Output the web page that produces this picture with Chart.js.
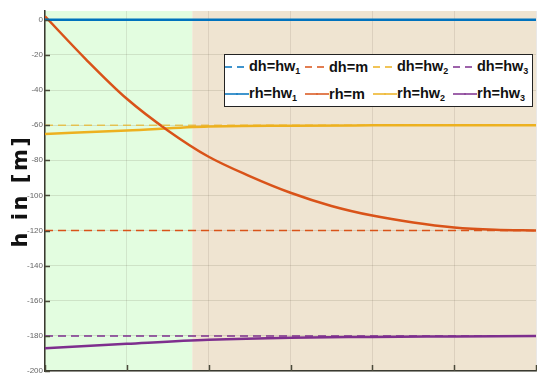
<!DOCTYPE html>
<html>
<head>
<meta charset="utf-8">
<script src="https://cdn.jsdelivr.net/npm/chart.js@4/dist/chart.umd.min.js"></script>
<style>
  html, body { margin: 0; padding: 0; background: #fff; }
  #wrap { position: relative; width: 537px; height: 374px; }
  #legend {
    position: absolute; left: 224px; top: 54px; width: 307px; height: 51px;
    background: #fff; border: 1px solid #222;
    font-family: "Liberation Sans", Arial, sans-serif; font-weight: bold; font-size: 14.5px; color: #111;
  }
  .row { position: absolute; left: 0; height: 20px; display: flex; align-items: center; }
  .item { display: flex; align-items: center; }
  .item svg { display: block; }
  sub { font-size: 9px; vertical-align: -3px; }
</style>
</head>
<body>
<div id="wrap">
  <canvas id="chart" width="537" height="374"></canvas>
  <div id="legend"></div>
</div>
<script>
// eje x (sin etiquetas)
const xFine = [0, 0.5, 1, 1.5, 2, 2.5, 3, 3.5, 4, 4.5, 5, 5.5, 6];
const xCoarse = [0, 1, 2, 3, 4, 5, 6];

// niveles de referencia (discontinuas)
const dhHw1 = [0, 0, 0, 0, 0, 0, 0];
const dhM = [-120, -120, -120, -120, -120, -120, -120];
const dhHw2 = [-60, -60, -60, -60, -60, -60, -60];
const dhHw3 = [-180, -180, -180, -180, -180, -180, -180];

// respuestas (continuas)
const rhHw1 = [0, 0, 0, 0, 0, 0, 0];
const rhM = [2, -22.5, -45, -63, -78, -89, -98.5, -106, -111.5, -115.5, -118.3, -119.6, -120];
const rhHw2 = [-65, -63, -60.8, -60.3, -60.1, -60, -60];
const rhHw3 = [-187, -184.5, -182.2, -181, -180.6, -180.3, -180];

const yTicks = [0, -20, -40, -60, -80, -100, -120, -140, -160, -180, -200];
const greenLimit = 1.8;

const cBlue = '#0072BD', cOrange = '#D95319', cYellow = '#EDB120', cPurple = '#7E2F8E';

const toPts = (xs, ys) => xs.map((x, i) => ({ x: x, y: ys[i] }));

// fondo verde / beige del área de trazado
const bgPlugin = {
  id: 'bg',
  beforeDraw(chart) {
    const { ctx, chartArea: a, scales: { x } } = chart;
    const xm = x.getPixelForValue(greenLimit);
    ctx.save();
    ctx.fillStyle = '#e3fde0';
    ctx.fillRect(a.left, a.top, xm - a.left, a.bottom - a.top);
    ctx.fillStyle = '#efe4d1';
    ctx.fillRect(xm, a.top, a.right - xm, a.bottom - a.top);
    ctx.restore();
  }
};

// título del eje y con letras más separadas
const spacingPlugin = {
  id: 'titleSpacing',
  afterLayout(chart) {
    const y = chart.scales.y;
    if (y._spaced) return;
    const orig = y.drawTitle;
    y.drawTitle = function () {
      const c = this.ctx;
      c.save();
      c.letterSpacing = '2.5px';
      orig.apply(this, arguments);
      c.restore();
    };
    y._spaced = true;
  }
};

// marcas de los ejes hacia dentro
const tickPlugin = {
  id: 'innerTicks',
  afterDraw(chart) {
    const { ctx, chartArea: a, scales: { x, y } } = chart;
    ctx.save();
    ctx.strokeStyle = '#4a4a3a';
    ctx.lineWidth = 1.5;
    yTicks.forEach(v => {
      const py = Math.round(y.getPixelForValue(v)) + 0.5;
      ctx.beginPath(); ctx.moveTo(a.left, py); ctx.lineTo(a.left + 5, py); ctx.stroke();
    });
    xCoarse.forEach(v => {
      const px = Math.round(x.getPixelForValue(v)) + 0.5;
      ctx.beginPath(); ctx.moveTo(px, a.bottom); ctx.lineTo(px, a.bottom - 6); ctx.stroke();
    });
    ctx.restore();
  }
};

const dashed = (label, data, color) => ({
  label, data: toPts(xCoarse, data), borderColor: color, borderWidth: 1.5,
  borderDash: [8, 5], pointRadius: 0, fill: false, tension: 0
});
const solid = (label, xs, data, color, w) => ({
  label, data: toPts(xs, data), borderColor: color, borderWidth: w,
  pointRadius: 0, fill: false, tension: 0.4, cubicInterpolationMode: 'monotone'
});

const ctx = document.getElementById('chart').getContext('2d');
const chart = new Chart(ctx, {
  type: 'line',
  data: {
    datasets: [
      dashed('dh=hw1', dhHw1, cBlue),
      dashed('dh=m', dhM, cOrange),
      dashed('dh=hw2', dhHw2, 'rgba(237,177,32,0.7)'),
      dashed('dh=hw3', dhHw3, cPurple),
      solid('rh=hw1', xCoarse, rhHw1, cBlue, 2.5),
      solid('rh=m', xFine, rhM, cOrange, 2.5),
      solid('rh=hw2', xCoarse, rhHw2, cYellow, 2.5),
      solid('rh=hw3', xCoarse, rhHw3, cPurple, 2.5)
    ]
  },
  options: {
    responsive: false,
    animation: false,
    layout: { padding: { top: 11, right: 1, left: 0, bottom: 3 } },
    plugins: { legend: { display: false }, tooltip: { enabled: false } },
    scales: {
      x: {
        type: 'linear', min: 0, max: 6,
        ticks: { display: false, stepSize: 1 },
        grid: { color: 'rgba(90,80,60,0.13)', lineWidth: 1, drawTicks: false },
        border: { color: '#3a3a30', width: 1.5 },
        afterFit(s) { s.height = 0; }
      },
      y: {
        min: -200, max: 5,
        afterBuildTicks(s) { s.ticks = yTicks.map(v => ({ value: v })); },
        ticks: { color: '#666', font: { size: 8, family: 'Liberation Sans' }, padding: 2 },
        grid: { color: 'rgba(90,80,60,0.15)', lineWidth: 1, drawTicks: false },
        border: { color: '#3a3a30', width: 1.5 },
        title: {
          display: true, text: 'h in [m]', color: '#111',
          font: { size: 21, weight: 'bold', family: 'DejaVu Sans' }, padding: { top: 9, bottom: 0 }
        },
        afterFit(s) { s.width = 45; s.paddingTop = 0; s.paddingBottom = 0; }
      }
    }
  },
  plugins: [bgPlugin, spacingPlugin, tickPlugin]
});

// leyenda HTML (con subíndices)
const legendRows = [
  [['dh=hw', '1', cBlue, true], ['dh=m', '', cOrange, true], ['dh=hw', '2', cYellow, true], ['dh=hw', '3', cPurple, true]],
  [['rh=hw', '1', cBlue, false], ['rh=m', '', cOrange, false], ['rh=hw', '2', cYellow, false], ['rh=hw', '3', cPurple, false]]
];
const colLeft = [0, 80, 148, 228];
const legend = document.getElementById('legend');
legendRows.forEach((row, r) => {
  row.forEach((it, c) => {
    const d = document.createElement('div');
    d.className = 'row item';
    d.style.top = (r === 0 ? 2 : 29) + 'px';
    d.style.left = colLeft[c] + 'px';
    const dash = it[3] ? 'stroke-dasharray="7,5"' : '';
    const dot = it[3] ? '' : `<circle cx="12" cy="6" r="0.8" fill="${it[2]}"/>`;
    d.innerHTML = `<svg width="24" height="12"><line x1="0" y1="6" x2="24" y2="6" stroke="${it[2]}" stroke-width="1.5" ${dash}/>${dot}</svg>` +
      `<span>${it[0]}${it[1] ? '<sub>' + it[1] + '</sub>' : ''}</span>`;
    legend.appendChild(d);
  });
});
</script>
</body>
</html>
